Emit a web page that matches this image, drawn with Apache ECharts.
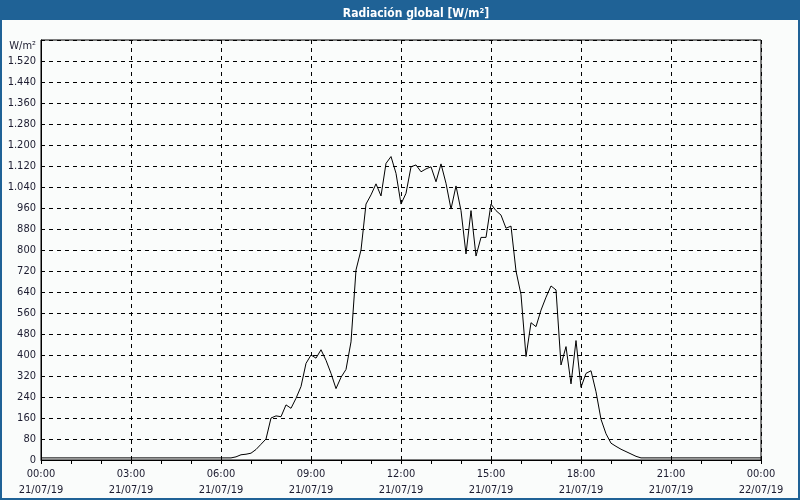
<!DOCTYPE html>
<html>
<head>
<meta charset="utf-8">
<script src="https://cdn.jsdelivr.net/npm/echarts@6/dist/echarts.min.js"></script>
<style>
html,body{margin:0;padding:0;background:#fafcfb;}
#chart{width:800px;height:500px;}
</style>
</head>
<body>
<div id="chart"></div>
<script>
// ---- data ----
const chartTitle = 'Radiación global [W/m²]';
const unitLabel = 'W/m²';
const dayLabel = '21/07/19';
const nextDayLabel = '22/07/19';
const sampleMinutes = 10; // one reading every 10 minutes, starting 00:00
const radiation = [
  8,8,8,8,8,8,8,8,8,8,
  8,8,8,8,8,8,8,8,8,8,
  8,8,8,8,8,8,8,8,8,8,
  8,8,8,8,8,8,8,8,8,
  12,20,22,26,40,60,80,160,168,165,
  210,197,235,280,368,400,388,420,380,330,
  272,315,345,450,724,800,975,1010,1052,1006,
  1130,1156,1092,975,1016,1117,1124,1098,1109,1117,
  1060,1128,1054,956,1044,950,785,950,777,848,
  848,975,950,933,883,891,720,630,394,523,
  508,571,620,663,648,362,432,290,455,277,
  330,340,260,155,100,64,52,41,32,23,
  14,
  8,8,8,8,8,8,8,8,8,8,
  8,8,8,8,8,8,8,8,8,8,
  8,8,8,8,8
];
const yMax = 1600, yStep = 80;
const xMax = 24, xStep = 3;

// ---- chart ----
const font = "'DejaVu Sans Condensed','DejaVu Sans',sans-serif";
const textColor = '#1c1c30';
const blue = '#1f6296';
const seriesData = radiation.map((v, i) => [i * sampleMinutes / 60, v]);

function fmtY(v) {
  if (v >= yMax) return '';
  const s = String(v);
  return v >= 1000 ? s.slice(0, s.length - 3) + '.' + s.slice(-3) : s;
}
function fmtX(v) {
  const h = v % 24;
  const hh = (h < 10 ? '0' : '') + h + ':00';
  return hh + '\n' + (v >= 24 ? nextDayLabel : dayLabel);
}

const chart = echarts.init(document.getElementById('chart'), null, {renderer: 'canvas'});
chart.setOption({
  animation: false,
  backgroundColor: '#fafcfb',
  title: {
    text: chartTitle,
    left: 411, top: 3, textAlign: 'center',
    textStyle: {color: '#ffffff', fontSize: 12, fontWeight: 'bold', fontFamily: font}
  },
  graphic: [
    {type: 'rect', shape: {x: 0, y: 0, width: 800, height: 20}, style: {fill: blue}, z: -1},
    {type: 'rect', shape: {x: 0, y: 0, width: 2, height: 500}, style: {fill: blue}, z: -1},
    {type: 'rect', shape: {x: 798, y: 0, width: 2, height: 500}, style: {fill: blue}, z: -1},
    {type: 'rect', shape: {x: 0, y: 498, width: 800, height: 2}, style: {fill: blue}, z: -1}
  ],
  grid: {left: 41, right: 39, top: 40, bottom: 40, show: true, borderColor: '#000', borderWidth: 1, backgroundColor: 'transparent'},
  xAxis: {
    type: 'value', min: 0, max: xMax, interval: xStep,
    axisLine: {show: true, lineStyle: {color: '#000', width: 1}},
    axisTick: {show: true, length: 4, lineStyle: {color: '#000'}},
    minorTick: {show: true, splitNumber: 3, length: 4, lineStyle: {color: '#000'}},
    splitLine: {show: true, lineStyle: {color: '#000', type: [4, 4], width: 1}},
    axisLabel: {formatter: fmtX, color: textColor, fontSize: 11, fontFamily: font, lineHeight: 16, margin: 6, showMinLabel: true, showMaxLabel: true}
  },
  yAxis: {
    type: 'value', min: 0, max: yMax, interval: yStep,
    name: unitLabel, nameLocation: 'end', nameGap: -6,
    nameTextStyle: {color: textColor, fontSize: 11, fontFamily: font, align: 'right', verticalAlign: 'middle', padding: [0, 5, 0, 0]},
    axisLine: {show: true, lineStyle: {color: '#000'}},
    axisTick: {show: false},
    splitLine: {show: true, lineStyle: {color: '#000', type: [4, 4], width: 1}},
    axisLabel: {formatter: fmtY, color: textColor, fontSize: 11, fontFamily: font, margin: 5}
  },
  series: [{
    type: 'line', data: seriesData, showSymbol: false, symbol: 'none',
    lineStyle: {color: '#000', width: 1}, silent: true
  }]
});
</script>
</body>
</html>
